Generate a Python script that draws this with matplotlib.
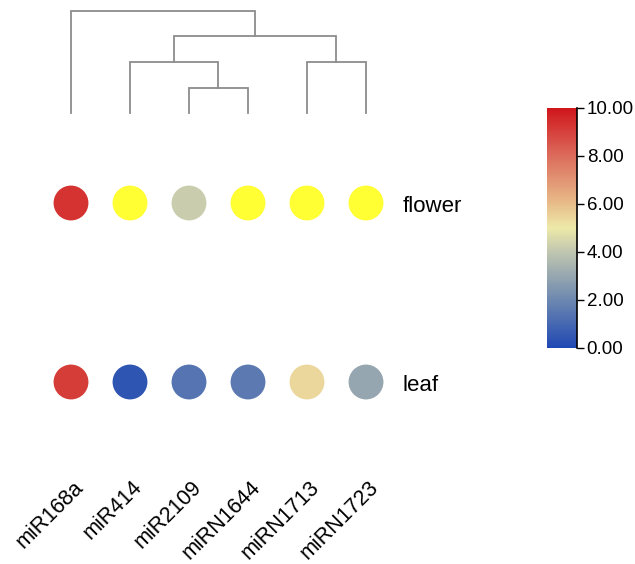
import numpy as np
import matplotlib
matplotlib.use("Agg")
import matplotlib.pyplot as plt
from matplotlib.colors import LinearSegmentedColormap, Normalize
from matplotlib.lines import Line2D
import matplotlib.transforms as mtransforms

plt.rcParams['font.family'] = ['Liberation Sans', 'DejaVu Sans']

genes = ["miR168a", "miR414", "miR2109", "miRN1644", "miRN1713", "miRN1723"]
tissues = ["leaf", "flower"]
flower_vals = [9.3, np.nan, 4.2, np.nan, np.nan, np.nan]
leaf_vals = [9.1, 0.4, 1.4, 1.6, 5.4, 3.0]
merge_heights = [1, 2, 2, 3, 4]

cbar_ticks = [0, 2, 4, 6, 8, 10]
cmap_stops = [(0.0, "#1f48b3"), (0.2, "#6d88b0"), (0.4, "#c0c6b0"),
              (0.5, "#ede9a8"), (0.6, "#e8bd8a"), (0.8, "#dc6c5c"),
              (1.0, "#d0161c")]
missing_color = "#ffff33"

W, H = 635, 564
fig = plt.figure(figsize=(W / 100, H / 100), dpi=100)


def rect(x0, y0, x1, y1):
    return [x0 / W, 1 - y1 / H, (x1 - x0) / W, (y1 - y0) / H]


cmap = LinearSegmentedColormap.from_list("bwr_custom", cmap_stops)
cmap.set_bad(missing_color)
norm = Normalize(0, 10)

# main dot axes
ax = fig.add_axes(rect(41.5, 113.5, 395.5, 471.5))
ax.set_xlim(-0.5, 5.5)
ax.set_ylim(-0.5, 1.5)
ax.axis("off")
xs = np.arange(len(genes))
row_trans = mtransforms.offset_copy(ax.transData, fig=fig, x=0, y=-9 * 0.72,
                                    units="points")
for row, vals in enumerate([leaf_vals, flower_vals]):
    v = np.array(vals, dtype=float)
    cols = [missing_color if np.isnan(a) else cmap(norm(a)) for a in v]
    ax.scatter(xs, np.full(len(xs), row), s=630, c=cols, edgecolors="none")
    ax.text(5.627, row, tissues[row], ha="left", va="baseline", fontsize=16,
            transform=row_trans)

# x labels
for i, g in enumerate(genes):
    trans = mtransforms.offset_copy(
        mtransforms.blended_transform_factory(ax.transData, ax.transAxes),
        fig=fig, x=13 * 0.72, y=0, units="points")
    ax.text(i, -16.5 / 358.0, g, transform=trans, rotation=45,
            rotation_mode="anchor", ha="right", va="baseline", fontsize=15.5)

# dendrogram
dax = fig.add_axes(rect(41.5, 0, 395.5, 120))
dax.set_xlim(-0.5, 5.5)
unit = (113.3 - 10.7) / 4
dax.set_ylim(-(120 - 113.3) / unit, 113.3 / unit)
dax.axis("off")
lc = "#8c8c8c"
lw = 1.3


def link(xl, hl, xr, hr, h):
    dax.plot([xl, xl, xr, xr], [hl, h, h, hr], color=lc, lw=lw,
             solid_joinstyle="miter", clip_on=False)
    return (xl + xr) / 2


c1 = link(2, 0, 3, 0, merge_heights[0])
c2 = link(1, 0, c1, merge_heights[0], merge_heights[1])
c3 = link(4, 0, 5, 0, merge_heights[2])
c4 = link(c2, merge_heights[1], c3, merge_heights[2], merge_heights[3])
link(0, 0, c4, merge_heights[3], merge_heights[4])

# colorbar
cax = fig.add_axes(rect(547, 108, 577, 348))
sm = plt.cm.ScalarMappable(norm=norm, cmap=cmap)
cb = fig.colorbar(sm, cax=cax, ticks=cbar_ticks)
cb.outline.set_visible(False)
cb.ax.set_yticklabels(["%.2f" % t for t in cbar_ticks])
cb.ax.tick_params(length=5, width=1, color="black", labelsize=13.5, pad=2)
cax.add_line(Line2D([1, 1], [0, 1], transform=cax.transAxes, color="black",
                    lw=1.2, clip_on=False))

fig.savefig("out.png", dpi=100)
